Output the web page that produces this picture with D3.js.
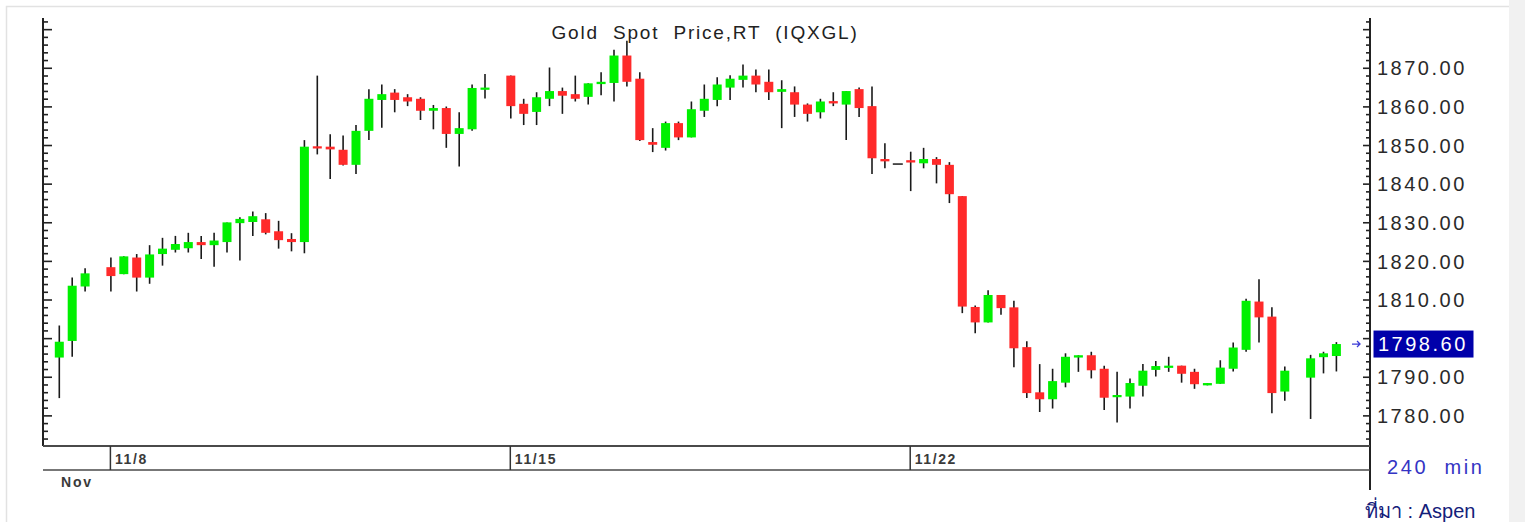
<!DOCTYPE html>
<html>
<head>
<meta charset="utf-8">
<script src="https://cdn.jsdelivr.net/npm/d3@7"></script>
<style>
  body { margin: 0; background: #fff; }
  text { font-family: "Liberation Sans", Arial, sans-serif; white-space: pre; }
</style>
</head>
<body>
<div id="chart"></div>
<script>
// dades OHLC, velas de 240 min (null = franja buida)
const opens  = [1795.1,1799.4,1813.5,null,1818.5,1816.7,1821.0,1815.8,1821.9,1823.0,1823.4,1825.0,1824.2,1825.0,1829.9,1830.2,1830.9,1827.8,1825.8,1825.0,
                1849.8,1849.7,1848.9,1845.0,1853.8,1861.8,1863.7,1862.5,1862.1,1859.0,1859.7,1853.0,1854.2,1864.6,null,1868.1,1860.8,1858.7,1862.1,1864.1,
                1863.3,1862.6,1865.9,1866.2,1873.3,1867.3,1850.9,1849.4,1855.8,1852.1,1859.0,1861.8,1865.0,1867.0,1868.1,1866.5,1863.9,1863.8,1860.6,1858.6,
                1861.5,1860.6,1864.6,1860.2,1846.5,1845.2,1846.2,1845.4,1846.5,1845.0,1836.9,1808.2,1804.2,1811.3,1808.1,1797.8,1786.1,1784.3,1788.6,1795.1,
                1795.7,1792.2,1785.0,1785.0,1787.8,1791.9,1792.6,1793.0,1791.4,1787.9,1788.3,1792.2,1797.1,1809.6,1805.7,1786.3,null,1789.9,1795.2,1795.5];
const highs  = [1803.4,1815.8,1818.2,null,1821.0,1821.3,1821.9,1824.2,1826.1,1826.6,1827.4,1826.6,1827.4,1830.1,1831.4,1832.9,1832.5,1830.5,1827.3,1851.4,
                1868.1,1852.9,1852.6,1855.3,1864.6,1865.8,1864.6,1863.3,1862.5,1860.5,1860.1,1858.6,1865.8,1868.5,null,1868.1,1862.1,1863.8,1870.2,1865.0,
                1868.1,1866.1,1869.0,1874.8,1877.1,1869.0,1854.5,1856.2,1856.2,1861.4,1865.8,1867.7,1868.2,1871.0,1869.7,1869.7,1866.9,1865.3,1860.9,1862.1,
                1863.8,1864.1,1865.0,1865.3,1850.6,1845.2,1848.4,1849.4,1847.0,1845.7,1836.9,1808.6,1812.5,1811.3,1809.8,1799.3,1793.4,1792.2,1796.2,1795.7,
                1796.6,1793.0,1791.4,1789.7,1793.4,1794.2,1795.3,1793.0,1792.2,1788.5,1794.4,1799.0,1810.3,1815.4,1808.1,1792.8,null,1795.8,1796.6,1799.1];
const lows   = [1784.6,1795.3,1812.2,null,1812.2,1816.7,1812.2,1814.2,1818.9,1822.3,1822.3,1820.6,1818.6,1822.3,1820.2,1826.6,1827.0,1823.3,1822.6,1822.1,
                1847.7,1841.3,1844.8,1842.6,1851.4,1854.6,1858.6,1860.2,1856.6,1854.2,1849.4,1844.6,1853.8,1862.2,null,1857.0,1855.3,1855.3,1860.2,1858.2,
                1861.4,1860.6,1863.0,1861.4,1865.3,1851.2,1848.3,1848.7,1851.4,1852.1,1857.4,1860.2,1861.8,1865.0,1863.8,1861.8,1854.5,1857.4,1856.2,1857.0,
                1860.2,1851.4,1857.4,1842.6,1844.1,1845.2,1838.2,1844.1,1840.2,1835.1,1806.6,1801.4,1804.2,1806.2,1792.6,1784.6,1781.0,1781.9,1787.4,1791.4,
                1789.7,1781.5,1778.3,1781.9,1785.0,1790.2,1791.4,1788.6,1787.0,1787.9,1788.3,1791.5,1796.6,1799.0,1780.7,1783.9,null,1779.2,1791.0,1791.5];
const closes = [1799.2,1813.7,1816.9,null,1816.2,1821.3,1815.8,1821.8,1823.3,1824.5,1825.0,1824.2,1825.4,1830.1,1831.0,1831.7,1827.4,1825.5,1825.0,1849.7,
                1849.4,1849.0,1845.0,1853.8,1862.1,1863.3,1861.8,1861.4,1859.0,1859.7,1853.0,1854.5,1864.9,1865.0,null,1860.2,1858.2,1862.5,1864.1,1862.9,
                1862.1,1866.1,1866.5,1873.3,1866.5,1851.4,1850.2,1855.8,1852.1,1859.4,1862.1,1865.8,1867.3,1868.1,1865.8,1863.8,1864.6,1860.6,1858.2,1861.4,
                1860.9,1864.1,1859.7,1846.7,1845.9,1845.2,1845.6,1846.5,1845.0,1837.4,1808.3,1804.2,1811.3,1807.9,1797.5,1785.9,1784.3,1789.0,1795.3,1795.7,
                1791.8,1784.7,1785.4,1788.5,1791.7,1792.9,1793.0,1790.9,1788.2,1788.5,1792.5,1797.7,1809.8,1805.5,1785.9,1791.7,null,1794.9,1796.2,1798.6];

// etiquetes dels eixos
const priceLabels = [1780, 1790, 1810, 1820, 1830, 1840, 1850, 1860, 1870];
const dateLabels = ["11/8", "11/15", "11/22"];
const dateSlots  = [4, 35, 66];
const monthLabel = "Nov";
const lastPrice = 1798.60;

const W = 1525, H = 522;
const plotL = 43, plotR = 1370, plotT = 20, plotB = 446;

const svg = d3.select("#chart").append("svg")
    .attr("width", W).attr("height", H);

// marc exterior
svg.append("rect").attr("x", 0).attr("y", 0).attr("width", W).attr("height", H).attr("fill", "#fff");
svg.append("rect").attr("x", 1509).attr("y", 0).attr("width", 16).attr("height", H).attr("fill", "#f1f1f1");
svg.append("path").attr("d", `M6.5,${H} V6.5 H1509`).attr("fill", "none").attr("stroke", "#e2e2e2").attr("stroke-width", 1.5);

// escales
const y = d3.scaleLinear().domain([1772.2, 1882.5]).range([plotB, plotT]);
const x = d3.scaleLinear().domain([0, 99]).range([59.3, 59.3 + 99 * 12.9]);

const candles = opens.map((o, i) => ({i, o, h: highs[i], l: lows[i], c: closes[i]}))
    .filter(d => d.o !== null);

// eixos verticals
const majorTicks = d3.range(1780, 1881, 10);
const minorTicks = d3.range(1774, 1883, 2).filter(v => v % 10 !== 0);

const axisL = svg.append("g");
axisL.append("line").attr("x1", plotL).attr("x2", plotL).attr("y1", plotT - 2).attr("y2", plotB)
    .attr("stroke", "#222").attr("stroke-width", 2);
axisL.selectAll(".maj").data(majorTicks).enter().append("line")
    .attr("x1", plotL).attr("x2", plotL + 9).attr("y1", d => y(d)).attr("y2", d => y(d))
    .attr("stroke", "#222").attr("stroke-width", 1.6);
axisL.selectAll(".min").data(minorTicks).enter().append("line")
    .attr("x1", plotL).attr("x2", plotL + 5).attr("y1", d => y(d)).attr("y2", d => y(d))
    .attr("stroke", "#222").attr("stroke-width", 1.6);

const axisR = svg.append("g");
axisR.append("line").attr("x1", plotR).attr("x2", plotR).attr("y1", plotT - 2).attr("y2", 490)
    .attr("stroke", "#222").attr("stroke-width", 2);
axisR.selectAll(".maj").data(majorTicks).enter().append("line")
    .attr("x1", plotR - 7).attr("x2", plotR).attr("y1", d => y(d)).attr("y2", d => y(d))
    .attr("stroke", "#222").attr("stroke-width", 1.6);
axisR.selectAll(".min").data(minorTicks).enter().append("line")
    .attr("x1", plotR - 4).attr("x2", plotR).attr("y1", d => y(d)).attr("y2", d => y(d))
    .attr("stroke", "#222").attr("stroke-width", 1.6);

// etiquetes de preu
axisR.selectAll(".lbl").data(priceLabels).enter().append("text")
    .attr("x", 1377).attr("y", d => y(d)).attr("dy", "0.36em")
    .style("font-size", "20px").style("letter-spacing", "2.5px").style("fill", "#2a2a2a")
    .text(d => d3.format(".2f")(d));

// requadre de l'ultim preu
svg.append("rect").attr("x", 1373.5).attr("y", y(lastPrice) - 13.5).attr("width", 100).attr("height", 27)
    .attr("fill", "#0000aa");
svg.append("text").attr("x", 1378).attr("y", y(lastPrice)).attr("dy", "0.36em")
    .style("font-size", "20px").style("letter-spacing", "2.5px").style("fill", "#fff")
    .text(d3.format(".2f")(lastPrice));
svg.append("path")
    .attr("d", `M1352,${y(lastPrice)} H1360 M1357,${y(lastPrice) - 3} L1360,${y(lastPrice)} L1357,${y(lastPrice) + 3}`)
    .attr("fill", "none").attr("stroke", "#3b3bd6").attr("stroke-width", 1.3);

// eix de temps
svg.append("line").attr("x1", plotL).attr("x2", plotR).attr("y1", plotB).attr("y2", plotB)
    .attr("stroke", "#4a4a4a").attr("stroke-width", 2);
svg.append("line").attr("x1", plotL).attr("x2", plotR).attr("y1", 470).attr("y2", 470)
    .attr("stroke", "#4a4a4a").attr("stroke-width", 1.5);
svg.selectAll(".dtick").data(dateSlots).enter().append("line")
    .attr("x1", d => x(d) - 0.5).attr("x2", d => x(d) - 0.5).attr("y1", plotB).attr("y2", 470)
    .attr("stroke", "#333").attr("stroke-width", 1.5);
svg.selectAll(".dlbl").data(dateSlots).enter().append("text")
    .attr("x", d => x(d) + 4).attr("y", 459).attr("dy", "0.36em")
    .style("font-size", "14px").style("font-weight", "bold").style("letter-spacing", "1.6px").style("fill", "#3a3a3a")
    .text((d, k) => dateLabels[k]);
svg.append("text").attr("x", 61).attr("y", 482).attr("dy", "0.36em")
    .style("font-size", "14px").style("font-weight", "bold").style("letter-spacing", "1.8px").style("fill", "#3a3a3a")
    .text(monthLabel);

// titol i textos
svg.append("text").attr("x", 705).attr("y", 32).attr("dy", "0.36em").attr("text-anchor", "middle")
    .style("font-size", "19px").style("letter-spacing", "1.8px").style("fill", "#222")
    .text("Gold  Spot  Price,RT  (IQXGL)");
svg.append("text").attr("x", 1387).attr("y", 467).attr("dy", "0.36em")
    .style("font-size", "20px").style("letter-spacing", "2.6px").style("fill", "#3434c4")
    .text("240  min");
svg.append("text").attr("x", 1365).attr("y", 518)
    .style("font-size", "20px").style("fill", "#14207a")
    .text("ที่มา : Aspen");

// veles
const bw = 9;
const g = svg.append("g");
g.selectAll(".wick").data(candles.filter(d => d.h !== d.l)).enter().append("line")
    .attr("x1", d => x(d.i)).attr("x2", d => x(d.i))
    .attr("y1", d => y(d.h)).attr("y2", d => y(d.l))
    .attr("stroke", "#1a1a1a").attr("stroke-width", 1.6);
g.selectAll(".body").data(candles.filter(d => d.o !== d.c)).enter().append("rect")
    .attr("x", d => x(d.i) - bw / 2)
    .attr("y", d => y(Math.max(d.o, d.c)))
    .attr("width", bw)
    .attr("height", d => Math.max(2.2, Math.abs(y(d.o) - y(d.c))))
    .attr("fill", d => d.c > d.o ? "#00f000" : "#ff2a2a");
g.selectAll(".flat").data(candles.filter(d => d.o === d.c)).enter().append("line")
    .attr("x1", d => x(d.i) - bw / 2 - 0.5).attr("x2", d => x(d.i) + bw / 2 + 0.5)
    .attr("y1", d => y(d.c)).attr("y2", d => y(d.c))
    .attr("stroke", "#1a1a1a").attr("stroke-width", 1.5);
</script>
</body>
</html>
